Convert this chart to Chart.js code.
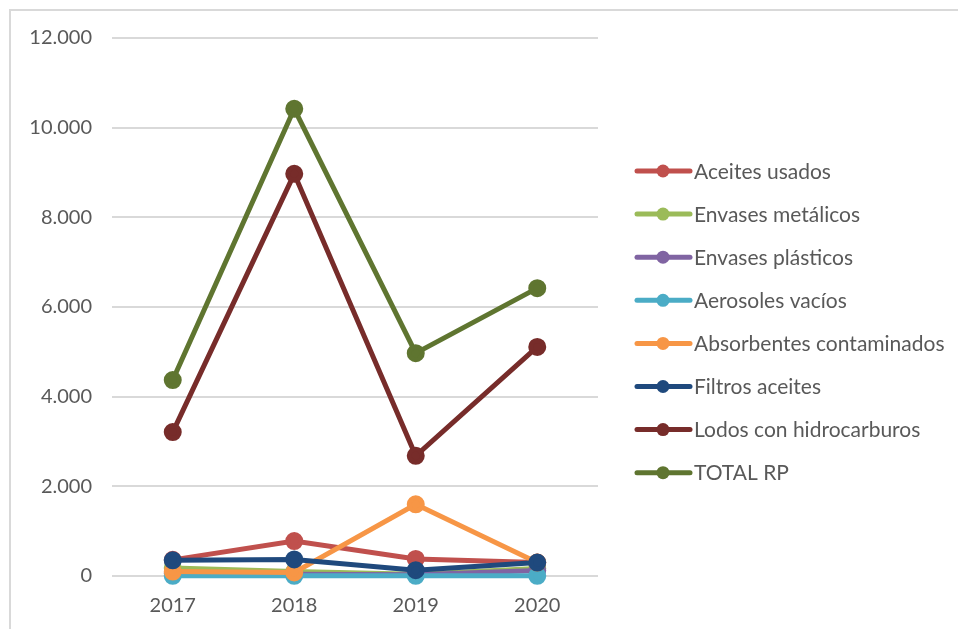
<!DOCTYPE html>
<html>
<head>
<meta charset="utf-8">
<script src="https://cdn.jsdelivr.net/npm/chart.js@4"></script>
<style>
  html, body { margin: 0; padding: 0; background: #fff; overflow: hidden; }
  #wrap { position: relative; width: 958px; height: 629px; }
  #frame { position: absolute; left: 9px; top: 9px; width: 960px; height: 640px; border: 2px solid #d9d9d9; box-sizing: border-box; }
  canvas { position: absolute; left: 0; top: 0; }
</style>
</head>
<body>
<div id="wrap">
  <div id="frame"></div>
  <canvas id="chart" width="958" height="629"></canvas>
</div>
<script>
const years = ["2017", "2018", "2019", "2020"];

const aceitesUsados = [360, 780, 380, 300];
const envasesMetalicos = [180, 100, 40, 170];
const envasesPlasticos = [60, 40, 30, 120];
const aerosolesVacios = [5, 5, 5, 5];
const absorbentes = [100, 80, 1600, 300];
const filtrosAceites = [350, 370, 130, 300];
const lodosHidrocarburos = [3210, 8970, 2680, 5110];
const totalRP = [4370, 10420, 4970, 6420];

const seriesNames = [
  "Aceites usados",
  "Envases metálicos",
  "Envases plásticos",
  "Aerosoles vacíos",
  "Absorbentes contaminados",
  "Filtros aceites",
  "Lodos con hidrocarburos",
  "TOTAL RP"
];
const seriesData = [
  aceitesUsados, envasesMetalicos, envasesPlasticos, aerosolesVacios,
  absorbentes, filtrosAceites, lodosHidrocarburos, totalRP
];
const seriesColors = [
  "#c0504d", "#9bbb59", "#8064a2", "#4bacc6",
  "#f79646", "#1f497d", "#772c2a", "#5f7530"
];

const n = seriesNames.length;
const datasets = seriesNames.map((name, i) => ({
  label: name,
  data: seriesData[i],
  borderColor: seriesColors[i],
  backgroundColor: seriesColors[i],
  pointBackgroundColor: seriesColors[i],
  pointBorderColor: seriesColors[i],
  borderWidth: 5,
  pointRadius: 6.5,
  pointHoverRadius: 6.5,
  tension: 0,
  clip: false,
  order: n - 1 - i // last series on top, like the original
}));

// legend on the right: line with a dot, then the label
const sideLegend = {
  id: "sideLegend",
  afterDraw(chart) {
    const g = chart.ctx;
    const x0 = 637, y0 = 171, step = 43.1;
    g.save();
    g.font = "21px Lato";
    g.textBaseline = "middle";
    g.textAlign = "left";
    chart.data.datasets.forEach((ds, i) => {
      const y = y0 + i * step;
      g.strokeStyle = ds.borderColor;
      g.lineWidth = 5;
      g.lineCap = "round";
      g.beginPath();
      g.moveTo(x0, y);
      g.lineTo(x0 + 53, y);
      g.stroke();
      g.fillStyle = ds.borderColor;
      g.beginPath();
      g.arc(x0 + 26, y, 6.5, 0, Math.PI * 2);
      g.fill();
      g.fillStyle = "#595959";
      g.fillText(ds.label, x0 + 57, y + 1);
    });
    g.restore();
  }
};

const ctx = document.getElementById("chart").getContext("2d");
new Chart(ctx, {
  type: "line",
  data: { labels: years, datasets: datasets },
  plugins: [sideLegend],
  options: {
    responsive: false,
    animation: false,
    layout: { padding: { left: 28, top: 38, right: 360, bottom: 11 } },
    plugins: {
      tooltip: { enabled: false },
      legend: { display: false }
    },
    scales: {
      x: {
        offset: true,
        grid: { display: false, drawTicks: false },
        border: { display: false },
        ticks: {
          color: "#595959",
          font: { family: "Lato", size: 20 },
          padding: 18
        },
        afterFit: (s) => { s.height = 42; }
      },
      y: {
        min: 0,
        max: 12000,
        grid: { color: "#d9d9d9", lineWidth: 2, drawTicks: false },
        border: { display: false },
        ticks: {
          stepSize: 2000,
          color: "#595959",
          font: { family: "Lato", size: 20 },
          padding: 20,
          callback: (v) => String(v).replace(/\B(?=(\d{3})+(?!\d))/g, ".")
        },
        afterFit: (s) => { s.width = 84; }
      }
    }
  }
});
</script>
</body>
</html>
